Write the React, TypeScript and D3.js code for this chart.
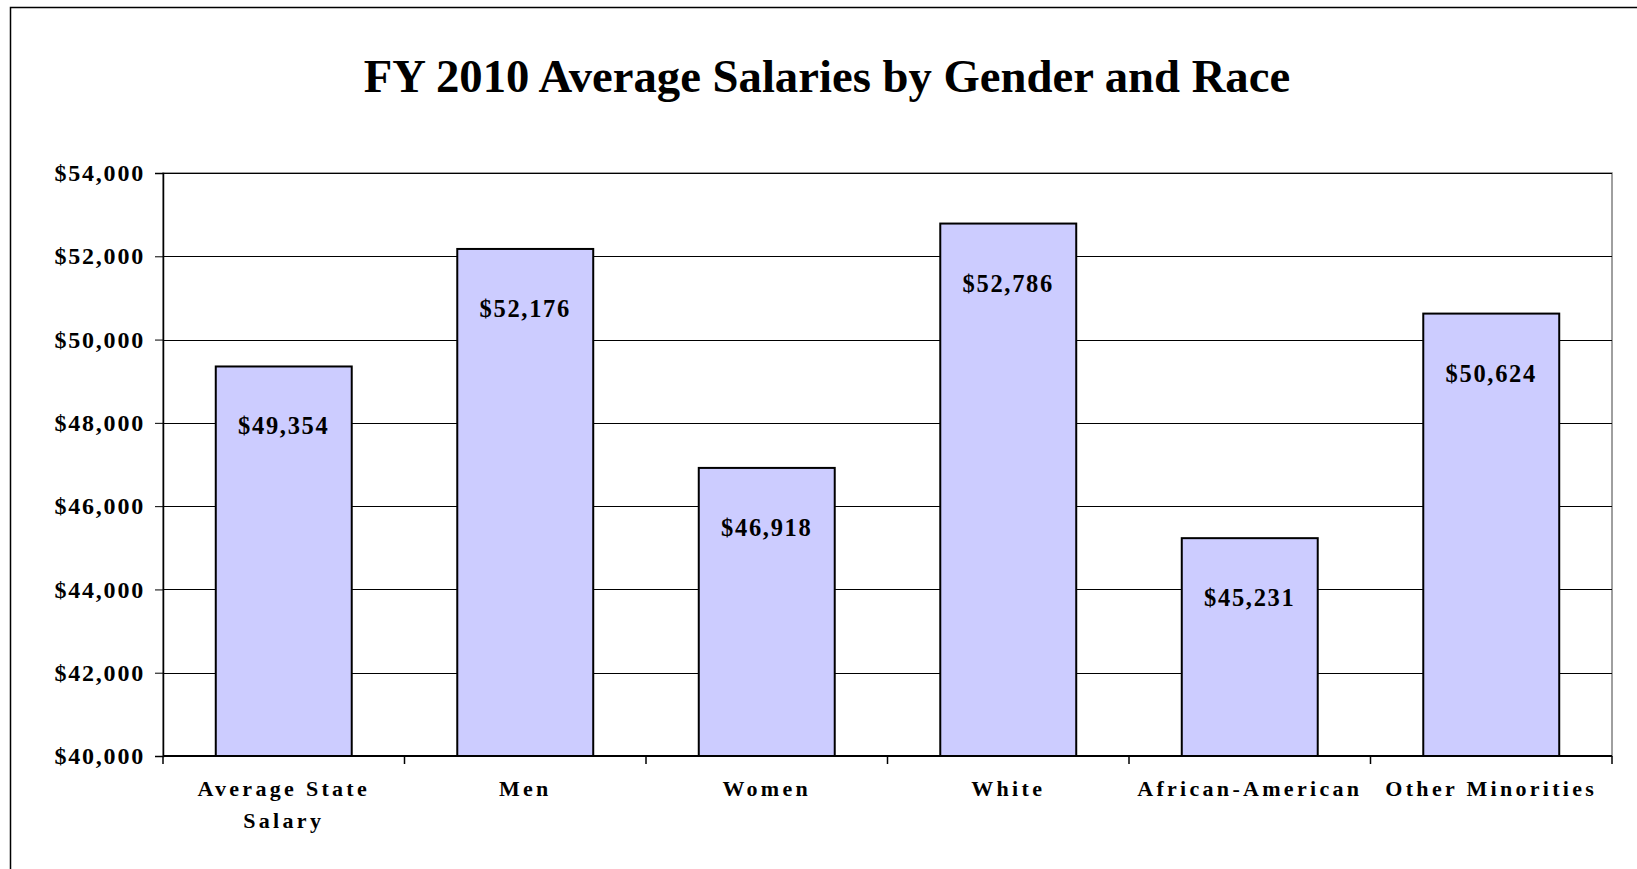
import React, { useEffect, useRef } from "react";
import * as d3 from "d3";

const categories = ["Average State Salary", "Men", "Women", "White", "African-American", "Other Minorities"];
const categoryLines = [["Average State", "Salary"], ["Men"], ["Women"], ["White"], ["African-American"], ["Other Minorities"]];
const salaries = [49354, 52176, 46918, 52786, 45231, 50624];
const yTicks = [40000, 42000, 44000, 46000, 48000, 50000, 52000, 54000];
const chartTitle = "FY 2010 Average Salaries by Gender and Race";

const W = 1637;
const H = 869;
const margin = { top: 173, right: 25, bottom: 113, left: 163 };
const FONT = "'Liberation Serif', 'Times New Roman', serif";

const App = () => {
  const ref = useRef<SVGSVGElement>(null);

  useEffect(() => {
    const svg = d3.select(ref.current);
    svg.selectAll("*").remove();

    const x = d3
      .scaleBand()
      .domain(categories)
      .range([margin.left, W - margin.right])
      .paddingInner(0.437)
      .paddingOuter(0.2185);
    const y = d3
      .scaleLinear()
      .domain([40000, 54000])
      .range([H - margin.bottom, margin.top]);

    const fmt = d3.format("$,");

    // outer frame (only top and left show in the picture)
    svg
      .append("path")
      .attr("d", `M10.5,${H} L10.5,7.5 L${W},7.5`)
      .attr("fill", "none")
      .attr("stroke", "#000")
      .attr("stroke-width", 1.5);

    svg
      .append("text")
      .attr("x", 827)
      .attr("y", 92)
      .attr("text-anchor", "middle")
      .attr("font-family", FONT)
      .attr("font-weight", "bold")
      .attr("font-size", 46.7)
      .text(chartTitle);

    // plot area border
    svg
      .append("rect")
      .attr("x", margin.left)
      .attr("y", margin.top)
      .attr("width", W - margin.right - margin.left)
      .attr("height", H - margin.bottom - margin.top)
      .attr("fill", "none")
      .attr("stroke", "#808080")
      .attr("stroke-width", 1.5);

    // gridlines
    svg
      .append("g")
      .selectAll("line")
      .data(yTicks.slice(1))
      .join("line")
      .attr("x1", margin.left)
      .attr("x2", W - margin.right)
      .attr("y1", (d) => Math.round(y(d)) + 0.5)
      .attr("y2", (d) => Math.round(y(d)) + 0.5)
      .attr("stroke", "#000")
      .attr("stroke-width", 1);

    // y axis
    const yAxis = svg
      .append("g")
      .attr("transform", `translate(${margin.left},0)`)
      .call(d3.axisLeft(y).tickValues(yTicks).tickSize(8).tickPadding(10).tickFormat((d) => fmt(d as number)));
    yAxis.select(".domain").attr("stroke", "#000").attr("stroke-width", 1.5);
    yAxis
      .selectAll("text")
      .attr("font-family", FONT)
      .attr("font-weight", "bold")
      .attr("font-size", 24)
      .attr("letter-spacing", 1.8)
      .attr("fill", "#000");

    // x axis with boundary ticks
    const bottom = H - margin.bottom;
    svg
      .append("line")
      .attr("x1", margin.left)
      .attr("x2", W - margin.right)
      .attr("y1", bottom)
      .attr("y2", bottom)
      .attr("stroke", "#000")
      .attr("stroke-width", 2);
    const step = x.step();
    svg
      .append("g")
      .selectAll("line")
      .data(d3.range(categories.length + 1))
      .join("line")
      .attr("x1", (i) => margin.left + i * step)
      .attr("x2", (i) => margin.left + i * step)
      .attr("y1", bottom)
      .attr("y2", bottom + 8)
      .attr("stroke", "#000")
      .attr("stroke-width", 1.5);

    // bars
    svg
      .append("g")
      .selectAll("rect")
      .data(salaries)
      .join("rect")
      .attr("x", (d, i) => x(categories[i]) as number)
      .attr("y", (d) => y(d))
      .attr("width", x.bandwidth())
      .attr("height", (d) => bottom - y(d))
      .attr("fill", "#CCCCFF")
      .attr("stroke", "#000")
      .attr("stroke-width", 2);

    // value labels
    svg
      .append("g")
      .selectAll("text")
      .data(salaries)
      .join("text")
      .attr("x", (d, i) => (x(categories[i]) as number) + x.bandwidth() / 2)
      .attr("y", (d) => y(d) + 68)
      .attr("text-anchor", "middle")
      .attr("font-family", FONT)
      .attr("font-weight", "bold")
      .attr("font-size", 24.5)
      .attr("letter-spacing", 1.7)
      .text((d) => fmt(d));

    // category labels
    svg
      .append("g")
      .selectAll("text")
      .data(categoryLines)
      .join("text")
      .attr("text-anchor", "middle")
      .attr("font-family", FONT)
      .attr("font-weight", "bold")
      .attr("font-size", 22)
      .attr("letter-spacing", 3.3)
      .each(function (lines, i) {
        const cx = (x(categories[i]) as number) + x.bandwidth() / 2;
        d3.select(this)
          .selectAll("tspan")
          .data(lines)
          .join("tspan")
          .attr("x", cx)
          .attr("y", (l, j) => bottom + 40 + j * 32)
          .text((l) => l);
      });
  }, []);

  return (
    <div style={{ position: "absolute", left: 0, top: 0, background: "#fff" }}>
      <svg ref={ref} width={W} height={H}></svg>
    </div>
  );
};

export default App;
